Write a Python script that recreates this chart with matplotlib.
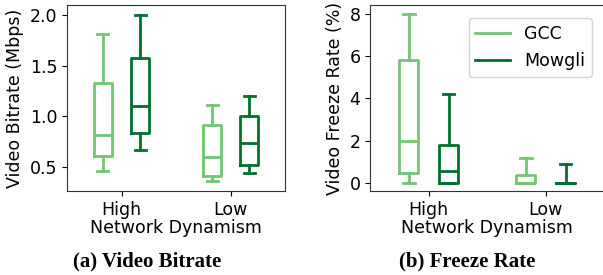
import numpy as np
from matplotlib import pyplot as plt

# box stats: (whislo, q1, med, q3, whishi)
groups = ["High", "Low"]
methods = ["GCC", "Mowgli"]
colors = ["#74c476", "#00702e"]

bitrate_gcc = [(0.46, 0.61, 0.81, 1.33, 1.81), (0.356, 0.405, 0.595, 0.91, 1.115)]
bitrate_mowgli = [(0.665, 0.83, 1.105, 1.58, 2.0), (0.44, 0.52, 0.74, 1.0, 1.205)]
freeze_gcc = [(0.0, 0.47, 1.99, 5.83, 8.0), (0.0, 0.0, 0.0, 0.35, 1.15)]
freeze_mowgli = [(0.0, 0.0, 0.55, 1.79, 4.22), (0.0, 0.0, 0.0, 0.0, 0.87)]

plt.rcParams['font.family'] = 'DejaVu Sans'
plt.rcParams['font.size'] = 12.5

offsets = [-0.17, 0.17]
width = 0.16

def make_stats(vals):
    return [dict(whislo=v[0], q1=v[1], med=v[2], q3=v[3], whishi=v[4], fliers=[]) for v in vals]

def draw(ax, series, ylabel):
    for k, vals in enumerate(series):
        pos = np.arange(len(groups)) + offsets[k]
        c = colors[k]
        lp = dict(color=c, linewidth=2)
        ax.bxp(make_stats(vals), positions=pos, widths=width, capwidths=0.1,
               showfliers=False, boxprops=lp, whiskerprops=lp, capprops=lp,
               medianprops=lp, manage_ticks=False)
    ax.set_xticks(np.arange(len(groups)))
    ax.set_xticklabels(groups)
    ax.set_xlim(-0.5, 1.5)
    ax.set_xlabel("Network Dynamism", labelpad=0)
    ax.set_ylabel(ylabel)
    for s in ax.spines.values():
        s.set_color("#333333")

fig = plt.figure(figsize=(6.03, 2.75), dpi=100)
ax1 = fig.add_axes([0.111, 0.305, 0.362, 0.677])
ax2 = fig.add_axes([0.614, 0.305, 0.388, 0.677])

draw(ax1, [bitrate_gcc, bitrate_mowgli], "Video Bitrate (Mbps)")
ax1.set_ylim(0.26, 2.1)
ax1.set_yticks([0.5, 1.0, 1.5, 2.0])

draw(ax2, [freeze_gcc, freeze_mowgli], "Video Freeze Rate (%)")
ax2.set_ylim(-0.4, 8.43)
ax2.set_yticks([0, 2, 4, 6, 8])
handles = [plt.Line2D([], [], color=c, linewidth=2) for c in colors]
ax2.legend(handles, methods, loc="upper right", bbox_to_anchor=(0.985, 0.975))

fig.text(0.244, 0.03, "(a) Video Bitrate", ha="center", family="Liberation Serif",
         weight="bold", fontsize=15)
fig.text(0.774, 0.03, "(b) Freeze Rate", ha="center", family="Liberation Serif",
         weight="bold", fontsize=15)

fig.savefig("out.png", dpi=100)
